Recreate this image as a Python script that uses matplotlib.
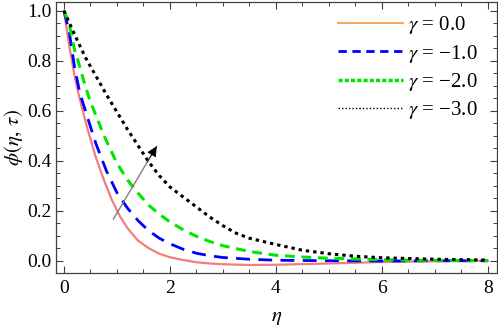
import numpy as np
import matplotlib
matplotlib.use("Agg")
import matplotlib.pyplot as plt
from matplotlib.lines import Line2D
from matplotlib.ticker import MultipleLocator

# values
eta_red = [0, 0.1, 0.2, 0.3, 0.45, 0.6, 0.75, 0.9, 1.05, 1.2, 1.4, 1.6, 1.8, 2.0,
           2.25, 2.5, 2.75, 3.0, 3.5, 4.0, 5.0, 6.0, 7.0, 8.0]
phi_red = [1.0, 0.86, 0.74, 0.645, 0.523, 0.415, 0.325, 0.245, 0.18, 0.13, 0.08, 0.05,
           0.028, 0.014, 0.003, -0.006, -0.011, -0.014, -0.017, -0.016, -0.011, -0.005,
           -0.002, 0.0]

eta_blue = [0, 0.1, 0.2, 0.3, 0.45, 0.6, 0.8, 1.0, 1.2, 1.4, 1.6, 1.8, 2.0, 2.25, 2.5,
            2.75, 3.0, 3.5, 4.0, 5.0, 6.0, 7.0, 8.0]
phi_blue = [1.0, 0.915, 0.775, 0.67, 0.57, 0.47, 0.36, 0.272, 0.21, 0.16, 0.12, 0.09,
            0.068, 0.046, 0.03, 0.02, 0.013, 0.006, 0.002, 0.0, -0.001, 0.0, 0.0]

eta_green = [0, 0.1, 0.2, 0.3, 0.4, 0.5, 0.6, 0.7, 0.8, 1.0, 1.2, 1.4, 1.6, 1.8, 2.0,
             2.25, 2.5, 2.75, 3.0, 3.5, 4.0, 4.5, 5.0, 6.0, 7.0, 8.0]
phi_green = [1.0, 0.945, 0.845, 0.775, 0.70, 0.635, 0.583, 0.53, 0.48, 0.39, 0.323,
             0.27, 0.222, 0.186, 0.155, 0.124, 0.098, 0.077, 0.06, 0.037, 0.022, 0.015,
             0.01, 0.004, 0.001, 0.0]

eta_black = [0, 0.2, 0.4, 0.6, 0.8, 1.0, 1.2, 1.4, 1.6, 1.8, 2.0, 2.25, 2.5, 2.75, 3.0,
             3.25, 3.5, 4.0, 4.5, 5.0, 5.5, 6.0, 7.0, 8.0]
phi_black = [1.0, 0.905, 0.815, 0.74, 0.665, 0.595, 0.525, 0.46, 0.395, 0.34, 0.295,
             0.255, 0.215, 0.175, 0.14, 0.11, 0.09, 0.065, 0.042, 0.028, 0.018, 0.012,
             0.006, 0.003]

gamma_labels = ["$\\gamma$ = 0.0", "$\\gamma$ = \u22121.0", "$\\gamma$ = \u22122.0",
                "$\\gamma$ = \u22123.0"]

arrow_start = (0.93, 0.166)
arrow_end = (1.75, 0.458)
arrow_head_base = (1.57, 0.394)

plt.rcParams["font.family"] = ["Liberation Serif", "DejaVu Serif"]
plt.rcParams["mathtext.fontset"] = "stix"

fig = plt.figure(figsize=(4.98, 3.28), dpi=100)
ax = fig.add_axes([56 / 498, 55 / 328, 441 / 498, 271 / 328])

ax.plot(eta_red, phi_red, color="#f47c7c", lw=1.6)
ax.plot(eta_blue, phi_blue, color="#0000ff", lw=2.0, linestyle=(0, (5, 3)))
ax.plot(eta_green, phi_green, color="#00e600", lw=2.2, linestyle=(0, (3.2, 2.2)))
ax.plot(eta_black, phi_black, color="black", lw=2.2, linestyle=(0, (1.1, 1.3)))

# gray shaft, black head
ax.annotate("", xy=arrow_end, xytext=arrow_start,
            arrowprops=dict(arrowstyle="-", color="#808080", lw=1.0,
                            shrinkA=0, shrinkB=0))
ax.annotate("", xy=arrow_end, xytext=arrow_head_base,
            arrowprops=dict(arrowstyle="-|>", color="black", lw=0.5,
                            mutation_scale=16, shrinkA=0, shrinkB=0))

ax.set_xlim(-0.15, 8.17)
ax.set_ylim(-0.049, 1.035)
ax.xaxis.set_major_locator(MultipleLocator(2))
ax.xaxis.set_minor_locator(MultipleLocator(0.5))
ax.yaxis.set_major_locator(MultipleLocator(0.2))
ax.yaxis.set_minor_locator(MultipleLocator(0.05))
ax.yaxis.set_major_formatter(plt.FormatStrFormatter("%.1f"))

ax.tick_params(which="both", direction="in", top=True, right=True,
               color="#404040", labelsize=14)
ax.tick_params(which="major", length=5, width=0.8)
ax.tick_params(which="minor", length=3, width=0.7)
ax.tick_params(axis="x", pad=5)
ax.tick_params(axis="y", pad=3)
for s in ax.spines.values():
    s.set_color("#404040")
    s.set_linewidth(0.9)

ax.set_xlabel(r"$\eta$", fontsize=15, labelpad=8)
ax.set_ylabel(r"$\phi(\eta,\,\tau)$", fontsize=15, labelpad=2)

handles = [
    Line2D([], [], color="#f5a862", lw=1.5),
    Line2D([], [], color="#0000ff", lw=2.0, linestyle=(0, (3, 2))),
    Line2D([], [], color="#00e600", lw=2.5, linestyle=(0, (1.2, 0.6))),
    Line2D([], [], color="black", lw=1.0, linestyle=(0, (1, 1.5))),
]
ax.legend(handles, gamma_labels, loc="upper right", frameon=False, fontsize=15,
          handlelength=3.1, handletextpad=0.25, labelspacing=0.3,
          borderaxespad=0.2, bbox_to_anchor=(0.985, 1.0))

fig.savefig("out.png", dpi=100)
